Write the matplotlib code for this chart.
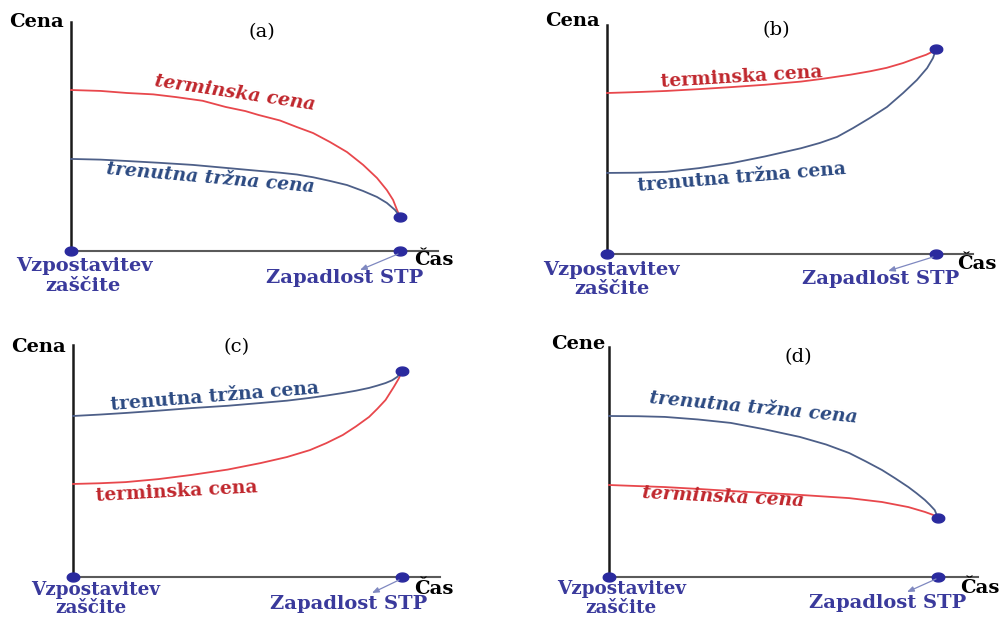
import numpy as np
import matplotlib
matplotlib.use("Agg")
import matplotlib.pyplot as plt
from matplotlib.path import Path
from matplotlib.patches import FancyArrowPatch

# ---------------- data (time to expiry fraction, price in % of axis height) -------------
t_a_fwd = [0, 0.09, 0.17, 0.25, 0.32, 0.40, 0.47, 0.53, 0.57, 0.635, 0.687, 0.736,
           0.787, 0.839, 0.888, 0.930, 0.960, 0.979, 0.991, 1.0]
p_a_fwd = [70.3, 69.9, 69.0, 68.4, 67.2, 65.6, 62.9, 61.1, 59.4, 57.0, 54.1, 51.5,
           47.6, 43.2, 37.6, 31.9, 26.6, 22.3, 17.9, 15.0]
t_a_spot = [0, 0.09, 0.17, 0.27, 0.37, 0.47, 0.57, 0.635, 0.687, 0.736, 0.787, 0.839,
            0.888, 0.930, 0.960, 0.985, 1.0]
p_a_spot = [40.2, 39.9, 39.3, 38.5, 37.6, 36.3, 35.0, 34.2, 33.4, 32.2, 30.6, 28.8,
            26.2, 23.6, 21.0, 17.9, 15.0]

t_b_fwd = [0, 0.09, 0.18, 0.28, 0.38, 0.48, 0.59, 0.65, 0.74, 0.80, 0.85, 0.90,
           0.94, 0.97, 0.99, 1.0]
p_b_fwd = [70.3, 70.7, 71.2, 72.0, 72.9, 73.9, 75.3, 76.4, 78.3, 79.8, 81.3, 83.4,
           85.5, 87.0, 88.4, 89.5]
t_b_spot = [0, 0.09, 0.18, 0.28, 0.38, 0.48, 0.59, 0.647, 0.699, 0.748, 0.799, 0.851,
            0.900, 0.942, 0.973, 0.991, 1.0]
p_b_spot = [35.4, 35.5, 35.9, 37.5, 39.7, 42.6, 46.2, 48.5, 51.1, 55.0, 59.4, 64.2,
            70.3, 76.0, 81.2, 85.6, 89.5]

t_c_spot = [0, 0.08, 0.16, 0.26, 0.36, 0.47, 0.57, 0.65, 0.72, 0.77, 0.82, 0.86,
            0.90, 0.925, 0.95, 0.97, 0.985, 1.0]
p_c_spot = [69.4, 70.0, 70.7, 71.7, 72.8, 73.8, 75.0, 76.0, 77.2, 78.2, 79.3, 80.3,
            81.5, 82.5, 83.6, 84.8, 86.2, 88.8]
t_c_fwd = [0, 0.08, 0.16, 0.26, 0.36, 0.47, 0.57, 0.65, 0.72, 0.77, 0.82, 0.86,
           0.90, 0.925, 0.95, 0.975, 0.99, 1.0]
p_c_fwd = [40.1, 40.4, 40.9, 42.2, 44.0, 46.3, 49.1, 51.7, 54.7, 57.7, 61.2, 64.9,
           69.0, 72.5, 76.3, 81.9, 85.5, 88.8]

t_d_spot = [0, 0.09, 0.17, 0.27, 0.37, 0.47, 0.58, 0.66, 0.73, 0.78, 0.83, 0.87,
            0.91, 0.935, 0.96, 0.975, 0.99, 1.0]
p_d_spot = [70.0, 69.9, 69.6, 68.5, 67.0, 64.3, 60.9, 57.6, 53.9, 50.3, 46.5, 42.9,
            39.1, 36.4, 33.5, 31.4, 29.1, 25.7]
t_d_fwd = [0, 0.17, 0.27, 0.37, 0.47, 0.58, 0.73, 0.83, 0.91, 0.96, 0.985, 1.0]
p_d_fwd = [40.0, 39.1, 38.3, 37.4, 36.6, 35.7, 34.3, 32.6, 30.4, 28.3, 27.0, 25.7]

panel_letters = ["(a)", "(b)", "(c)", "(d)"]
y_titles = ["Cena", "Cena", "Cena", "Cene"]
x_title = "Čas"
start_label = ["Vzpostavitev", "zaščite"]
end_label = "Zapadlost STP"
fwd_label = "terminska cena"
spot_label = "trenutna tržna cena"

# ---------------- styles -------------
W, H = 1000, 617
RED_LINE = "#e8474c"
BLUE_LINE = "#4d5f88"
RED_TXT = "#c0272d"
BLUE_TXT = "#2c4a82"
DOT = "#2a2a9e"
LBL = "#3a3a9c"
SERIF = "DejaVu Serif"
FS_LBL = 14
FS_CURVE = 13.5

th = np.linspace(0, 2 * np.pi, 41)
ellipse = Path(np.column_stack([1.4 * np.cos(th), np.sin(th)]))

fig = plt.figure(figsize=(W / 100, H / 100), dpi=100)
fig.patch.set_facecolor("white")


def fx(px):
    return px / W


def fy(py):
    return 1 - py / H


# layout in pixels: left, right(x-axis end), top(y-axis top), bottom(x-axis), expiry x
layouts = [
    dict(l=71, r=438, t=22, b=251, e=400),
    dict(l=607, r=973, t=25, b=254, e=936),
    dict(l=73, r=440, t=345, b=577, e=402),
    dict(l=609, r=978, t=347, b=577, e=938),
]

series = [
    (t_a_fwd, p_a_fwd, t_a_spot, p_a_spot),
    (t_b_fwd, p_b_fwd, t_b_spot, p_b_spot),
    (t_c_fwd, p_c_fwd, t_c_spot, p_c_spot),
    (t_d_fwd, p_d_fwd, t_d_spot, p_d_spot),
]

# text placements (pixel centres)
txt = [
    dict(ytit=(37, 22), let=(262, 32), cas=(434, 260), v=(84, 266), z=(83, 286), zap=(345, 278),
         fwd=(235, 93, -8.5), spot=(210, 178, -5.0), arr=((398, 254), (360, 270)), ital=True,
         fs_v=FS_LBL),
    dict(ytit=(572, 21), let=(776, 30), cas=(977, 264), v=(611, 270), z=(612, 289), zap=(881, 279),
         fwd=(742, 77, 3.5), spot=(742, 177, 4.7), arr=((933, 257), (888, 271)), ital=False,
         fs_v=FS_LBL),
    dict(ytit=(38, 347), let=(237, 347), cas=(434, 589), v=(96, 590), z=(91, 608), zap=(349, 604),
         fwd=(177, 492, 3.1), spot=(215, 397, 4.6), arr=((399, 580), (372, 593)), ital=False,
         fs_v=13.2),
    dict(ytit=(578, 344), let=(798, 357), cas=(980, 588), v=(622, 589), z=(621, 608), zap=(888, 603),
         fwd=(723, 497, -2.9), spot=(753, 408, -5.4), arr=((936, 579), (907, 592)), ital=True,
         fs_v=13.2),
]

for i in range(4):
    L = layouts[i]
    tf, pf, ts, ps = series[i]
    ax = fig.add_axes([fx(L["l"]), fy(L["b"]), (L["r"] - L["l"]) / W, (L["b"] - L["t"]) / H])
    xmax = (L["r"] - L["l"]) / (L["e"] - L["l"])
    ax.set_xlim(0, xmax)
    ax.set_ylim(0, 100)
    ax.set_facecolor("none")
    for s in ["top", "right"]:
        ax.spines[s].set_visible(False)
    ax.spines["left"].set_color("#1a1a1a")
    ax.spines["left"].set_linewidth(1.8)
    ax.spines["bottom"].set_color("#5a5a5a")
    ax.spines["bottom"].set_linewidth(1.5)
    ax.set_xticks([])
    ax.set_yticks([])

    ax.plot(tf, pf, color=RED_LINE, lw=1.3, clip_on=False, zorder=3,
            solid_joinstyle="round")
    ax.plot(ts, ps, color=BLUE_LINE, lw=1.3, clip_on=False, zorder=3,
            solid_joinstyle="round")
    # dots: inception, expiry on axis, convergence point
    ax.plot([0, tf[-1], tf[-1]], [0, 0, pf[-1]], linestyle="none", marker=ellipse,
            ms=9, color=DOT, clip_on=False, zorder=5)

    T = txt[i]
    st = "italic" if T["ital"] else "normal"
    fig.text(fx(T["ytit"][0]), fy(T["ytit"][1]), y_titles[i], ha="center", va="center",
             family=SERIF, weight="bold", fontsize=FS_LBL, color="black")
    fig.text(fx(T["let"][0]), fy(T["let"][1]), panel_letters[i], ha="center", va="center",
             family=SERIF, fontsize=14, color="black")
    fig.text(fx(T["cas"][0]), fy(T["cas"][1]), x_title, ha="center", va="center",
             family=SERIF, weight="bold", fontsize=FS_LBL, color="black")
    fig.text(fx(T["v"][0]), fy(T["v"][1]), start_label[0], ha="center", va="center",
             family=SERIF, weight="bold", fontsize=T["fs_v"], color=LBL)
    fig.text(fx(T["z"][0]), fy(T["z"][1]), start_label[1], ha="center", va="center",
             family=SERIF, weight="bold", fontsize=T["fs_v"], color=LBL)
    fig.text(fx(T["zap"][0]), fy(T["zap"][1]), end_label, ha="center", va="center",
             family=SERIF, weight="bold", fontsize=FS_LBL, color=LBL)
    fig.text(fx(T["fwd"][0]), fy(T["fwd"][1]), fwd_label, ha="center", va="center",
             rotation=T["fwd"][2], rotation_mode="anchor", family=SERIF, weight="bold",
             style=st, fontsize=FS_CURVE, color=RED_TXT)
    fig.text(fx(T["spot"][0]), fy(T["spot"][1]), spot_label, ha="center", va="center",
             rotation=T["spot"][2], rotation_mode="anchor", family=SERIF, weight="bold",
             style=st, fontsize=FS_CURVE, color=BLUE_TXT)
    (x0, y0), (x1, y1) = T["arr"]
    fig.add_artist(FancyArrowPatch(
        (fx(x0), fy(y0)), (fx(x1), fy(y1)), transform=fig.transFigure,
        arrowstyle="-|>,head_length=4,head_width=1.6", color="#7f88c0", lw=0.9,
        mutation_scale=1, shrinkA=0, shrinkB=0))

fig.savefig("out.png", dpi=100, facecolor="white")
